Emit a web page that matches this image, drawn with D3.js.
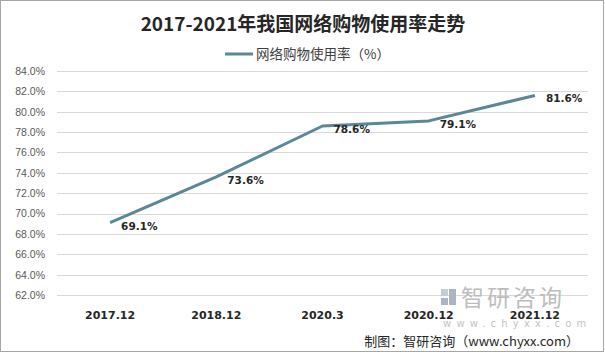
<!DOCTYPE html>
<html><head><meta charset="utf-8">
<script src="https://cdn.jsdelivr.net/npm/d3@7"></script>
<style>body{margin:0;background:#fff;}svg{display:block;}</style>
</head><body>
<svg id="c" width="605" height="352"></svg>
<script>
const categories = ["2017.12","2018.12","2020.3","2020.12","2021.12"];
const values = [69.1, 73.6, 78.6, 79.1, 81.6];
const yTicks = [62,64,66,68,70,72,74,76,78,80,82,84];
const seriesName = "网络购物使用率（%）";
const titleText = "2017-2021年我国网络购物使用率走势";

(function(){
const svg = d3.select("#c");
const W = 605, H = 352;
const pL = 57, pR = 588, pT = 71, pB = 295;
const lineColor = "#5b8896";
const font = "'Noto Sans CJK SC','Noto Sans',sans-serif";

svg.append("rect").attr("x",0.5).attr("y",0.5).attr("width",W-2).attr("height",H-1)
  .attr("fill","#fff").attr("stroke","#a6a6a6").attr("stroke-width",1);

const x = d3.scaleBand().domain(categories).range([pL,pR]);
const y = d3.scaleLinear().domain([62,84]).range([pB,pT]);

// gridlines
svg.append("g").selectAll("line").data(yTicks).join("line")
  .attr("x1",pL).attr("x2",pR)
  .attr("y1",d=>Math.round(y(d))+0.5).attr("y2",d=>Math.round(y(d))+0.5)
  .attr("stroke","#d9d9d9").attr("stroke-width",1);

// y axis labels
const yAxis = d3.axisLeft(y).tickValues(yTicks).tickFormat(d=>d.toFixed(1)+"%").tickSize(0).tickPadding(0);
const gy = svg.append("g").attr("transform",`translate(${pL-12},0)`).call(yAxis);
gy.select(".domain").remove();
gy.selectAll("text").attr("font-family","'Liberation Sans','DejaVu Sans',sans-serif").attr("font-size",10.5).attr("fill","#595959");

// x axis labels
const xAxis = d3.axisBottom(x).tickSize(0).tickPadding(0);
const gx = svg.append("g").attr("transform",`translate(0,${pB+16})`).call(xAxis);
gx.select(".domain").remove();
gx.selectAll("text").attr("font-family","'DejaVu Sans',sans-serif").attr("font-size",11).attr("font-weight","bold").attr("fill","#262626");

// watermark
const wm = svg.append("g");
wm.append("rect").attr("x",441).attr("y",289).attr("width",7).attr("height",7).attr("fill","#c5ccd6");
wm.append("rect").attr("x",449).attr("y",289).attr("width",7).attr("height",16).attr("fill","#aab4c2");
wm.append("rect").attr("x",441).attr("y",298).attr("width",7).attr("height",7).attr("fill","#aab4c2");
wm.append("text").attr("x",461).attr("y",306).attr("font-family",font).attr("font-size",23)
  .attr("fill","#bdbdbd").attr("letter-spacing",3).text("智研咨询");
wm.append("text").attr("x",443).attr("y",327).attr("font-family","'DejaVu Sans',sans-serif").attr("font-size",10)
  .attr("fill","#c4c4c4").attr("letter-spacing",5.2).text("www.chyxx.com");

// line
const line = d3.line().x((d,i)=>x(categories[i])+x.bandwidth()/2).y(d=>y(d));
svg.append("path").datum(values).attr("d",line).attr("fill","none")
  .attr("stroke",lineColor).attr("stroke-width",3).attr("stroke-linejoin","round");

// data labels
svg.append("g").selectAll("text").data(values).join("text")
  .attr("x",(d,i)=>x(categories[i])+x.bandwidth()/2+11)
  .attr("y",d=>y(d)+7)
  .attr("font-family","'DejaVu Sans',sans-serif").attr("font-size",10.5).attr("font-weight","bold")
  .attr("fill","#262626").text(d=>d.toFixed(1)+"%");

// title
svg.append("text").attr("x",303).attr("y",31).attr("text-anchor","middle")
  .attr("font-family",font).attr("font-size",19).attr("font-weight","bold").attr("fill","#262626").text(titleText);

// legend
svg.append("line").attr("x1",225).attr("x2",253).attr("y1",54).attr("y2",54).attr("stroke",lineColor).attr("stroke-width",3);
svg.append("text").attr("x",256).attr("y",59).attr("font-family",font).attr("font-size",13.5)
  .attr("fill","#404040").text(seriesName);

// source
svg.append("text").attr("x",579).attr("y",346).attr("text-anchor","end").attr("font-family",font)
  .attr("font-size",13).attr("fill","#262626").text("制图：智研咨询（www.chyxx.com）");
})();
</script>
</body></html>
